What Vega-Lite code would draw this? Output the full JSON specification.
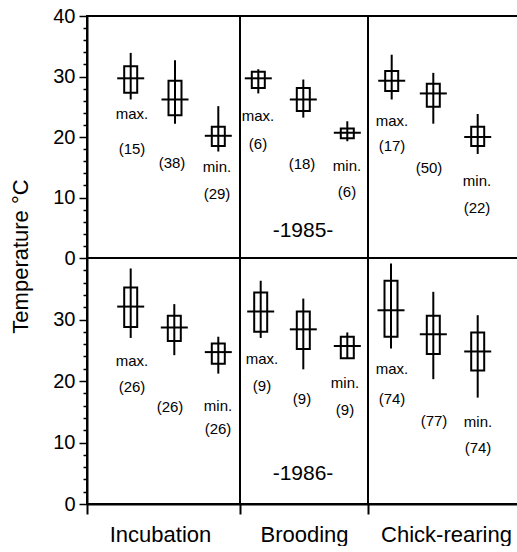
{
  "$schema": "https://vega.github.io/schema/vega-lite/v6.json",
  "padding": {"left": 8, "top": 5, "right": 0, "bottom": 0},
  "spacing": 0,
  "bounds": "flush",
  "config": {
    "font": "Liberation Sans",
    "view": {"stroke": "black", "strokeWidth": 2},
    "concat": {"spacing": 0},
    "axis": {
      "domainColor": "black", "domainWidth": 2,
      "tickColor": "black", "tickWidth": 1.5,
      "labelColor": "black", "labelFont": "Liberation Sans", "labelFontSize": 20,
      "labelOverlap": false,
      "grid": false,
      "titleFont": "Liberation Sans", "titleFontSize": 22, "titleFontWeight": "normal", "titleColor": "black"
    }
  },
  "resolve": {"scale": {"x": "independent", "y": "independent"}},
  "datasets": {
    "dividers": [{"pos": 15.3}, {"pos": 28.1}],
    "boxes": [
      {"year": 1985, "stage": "Incubation", "stat": "max", "pos": 4.37, "wlo": 26.2, "whi": 33.9, "blo": 27.3, "bhi": 31.7, "mean": 29.7},
      {"year": 1985, "stage": "Incubation", "stat": "mean", "pos": 8.8, "wlo": 22.2, "whi": 32.7, "blo": 23.6, "bhi": 29.3, "mean": 26.2},
      {"year": 1985, "stage": "Incubation", "stat": "min", "pos": 13.13, "wlo": 17.6, "whi": 25.1, "blo": 18.5, "bhi": 21.7, "mean": 20.2},
      {"year": 1985, "stage": "Brooding", "stat": "max", "pos": 17.13, "wlo": 27.2, "whi": 31.2, "blo": 28.1, "bhi": 30.8, "mean": 29.7},
      {"year": 1985, "stage": "Brooding", "stat": "mean", "pos": 21.63, "wlo": 23.2, "whi": 29.5, "blo": 24.3, "bhi": 28.1, "mean": 26.2},
      {"year": 1985, "stage": "Brooding", "stat": "min", "pos": 26.03, "wlo": 19.3, "whi": 22.6, "blo": 19.8, "bhi": 21.4, "mean": 20.7},
      {"year": 1985, "stage": "Chick-rearing", "stat": "max", "pos": 30.47, "wlo": 26.2, "whi": 33.6, "blo": 27.6, "bhi": 30.9, "mean": 29.3},
      {"year": 1985, "stage": "Chick-rearing", "stat": "mean", "pos": 34.63, "wlo": 22.2, "whi": 30.6, "blo": 25.0, "bhi": 28.8, "mean": 27.2},
      {"year": 1985, "stage": "Chick-rearing", "stat": "min", "pos": 39.07, "wlo": 17.2, "whi": 23.8, "blo": 18.5, "bhi": 21.7, "mean": 20.0},
      {"year": 1986, "stage": "Incubation", "stat": "max", "pos": 4.37, "wlo": 27.0, "whi": 38.3, "blo": 28.8, "bhi": 35.2, "mean": 32.1},
      {"year": 1986, "stage": "Incubation", "stat": "mean", "pos": 8.73, "wlo": 24.2, "whi": 32.5, "blo": 26.5, "bhi": 30.6, "mean": 28.7},
      {"year": 1986, "stage": "Incubation", "stat": "min", "pos": 13.13, "wlo": 21.2, "whi": 27.2, "blo": 22.8, "bhi": 26.1, "mean": 24.7},
      {"year": 1986, "stage": "Brooding", "stat": "max", "pos": 17.37, "wlo": 27.0, "whi": 36.3, "blo": 28.0, "bhi": 34.4, "mean": 31.3},
      {"year": 1986, "stage": "Brooding", "stat": "mean", "pos": 21.63, "wlo": 21.9, "whi": 33.4, "blo": 25.2, "bhi": 31.3, "mean": 28.4},
      {"year": 1986, "stage": "Brooding", "stat": "min", "pos": 26.03, "wlo": 23.6, "whi": 27.9, "blo": 23.7, "bhi": 27.2, "mean": 25.7},
      {"year": 1986, "stage": "Chick-rearing", "stat": "max", "pos": 30.4, "wlo": 25.3, "whi": 39.1, "blo": 27.2, "bhi": 36.3, "mean": 31.5},
      {"year": 1986, "stage": "Chick-rearing", "stat": "mean", "pos": 34.63, "wlo": 20.3, "whi": 34.5, "blo": 24.4, "bhi": 30.6, "mean": 27.6},
      {"year": 1986, "stage": "Chick-rearing", "stat": "min", "pos": 39.07, "wlo": 17.3, "whi": 30.7, "blo": 21.7, "bhi": 27.9, "mean": 24.8}
    ],
    "labels": [
      {"year": 1985, "kind": "stat", "pos": 4.5, "ly": 23.8, "text": "max."},
      {"year": 1985, "kind": "stat", "pos": 4.5, "ly": 18.0, "text": "(15)"},
      {"year": 1985, "kind": "stat", "pos": 8.5, "ly": 15.7, "text": "(38)"},
      {"year": 1985, "kind": "stat", "pos": 13.0, "ly": 15.0, "text": "min."},
      {"year": 1985, "kind": "stat", "pos": 13.0, "ly": 10.6, "text": "(29)"},
      {"year": 1985, "kind": "stat", "pos": 17.1, "ly": 23.5, "text": "max."},
      {"year": 1985, "kind": "stat", "pos": 17.1, "ly": 18.8, "text": "(6)"},
      {"year": 1985, "kind": "stat", "pos": 21.5, "ly": 15.5, "text": "(18)"},
      {"year": 1985, "kind": "stat", "pos": 26.0, "ly": 15.2, "text": "min."},
      {"year": 1985, "kind": "stat", "pos": 26.0, "ly": 10.9, "text": "(6)"},
      {"year": 1985, "kind": "stat", "pos": 30.5, "ly": 22.6, "text": "max."},
      {"year": 1985, "kind": "stat", "pos": 30.5, "ly": 18.5, "text": "(17)"},
      {"year": 1985, "kind": "stat", "pos": 34.2, "ly": 14.9, "text": "(50)"},
      {"year": 1985, "kind": "stat", "pos": 39.0, "ly": 12.7, "text": "min."},
      {"year": 1985, "kind": "stat", "pos": 39.0, "ly": 8.3, "text": "(22)"},
      {"year": 1985, "kind": "year", "pos": 21.6, "ly": 4.5, "text": "-1985-"},
      {"year": 1986, "kind": "stat", "pos": 4.5, "ly": 23.3, "text": "max."},
      {"year": 1986, "kind": "stat", "pos": 4.5, "ly": 19.0, "text": "(26)"},
      {"year": 1986, "kind": "stat", "pos": 8.3, "ly": 15.8, "text": "(26)"},
      {"year": 1986, "kind": "stat", "pos": 13.1, "ly": 15.9, "text": "min."},
      {"year": 1986, "kind": "stat", "pos": 13.1, "ly": 12.2, "text": "(26)"},
      {"year": 1986, "kind": "stat", "pos": 17.5, "ly": 23.6, "text": "max."},
      {"year": 1986, "kind": "stat", "pos": 17.5, "ly": 19.2, "text": "(9)"},
      {"year": 1986, "kind": "stat", "pos": 21.5, "ly": 17.1, "text": "(9)"},
      {"year": 1986, "kind": "stat", "pos": 25.8, "ly": 19.7, "text": "min."},
      {"year": 1986, "kind": "stat", "pos": 25.8, "ly": 15.3, "text": "(9)"},
      {"year": 1986, "kind": "stat", "pos": 30.5, "ly": 22.0, "text": "max."},
      {"year": 1986, "kind": "stat", "pos": 30.5, "ly": 17.1, "text": "(74)"},
      {"year": 1986, "kind": "stat", "pos": 34.7, "ly": 13.5, "text": "(77)"},
      {"year": 1986, "kind": "stat", "pos": 39.1, "ly": 13.3, "text": "min."},
      {"year": 1986, "kind": "stat", "pos": 39.1, "ly": 9.1, "text": "(74)"},
      {"year": 1986, "kind": "year", "pos": 21.6, "ly": 4.9, "text": "-1986-"}
    ]
  },
  "vconcat": [
    {
      "width": 432,
      "height": 242,
      "layer": [
        {
          "data": {"name": "boxes"},
          "transform": [{"filter": "datum.year == 1985"}],
          "mark": {"type": "rule", "color": "black", "strokeWidth": 2},
          "encoding": {
            "x": {"field": "pos", "type": "quantitative", "scale": {"domain": [0, 43.2], "nice": false, "zero": false, "padding": 0}, "axis": null},
            "y": {
              "field": "wlo", "type": "quantitative",
              "scale": {"domain": [0, 40], "nice": false, "padding": 0},
              "axis": {
                "values": [0, 2, 4, 6, 8, 10, 12, 14, 16, 18, 20, 22, 24, 26, 28, 30, 32, 34, 36, 38, 40],
                "tickCount": 100,
                "format": "d",
                "labelExpr": "datum.value % 10 === 0 ? datum.label : ''",
                "tickSize": {"condition": {"test": "datum.value % 10 === 0", "value": 8}, "value": 4},
                "labelPadding": 4,
                "labelOverlap": false,
                "labelFlush": false,
                "title": "Temperature °C",
                "titleAngle": -90,
                "titleY": 240,
                "titleX": -60,
                "titleAlign": "center",
                "titleBaseline": "alphabetic"
              }
            },
            "y2": {"field": "whi"}
          }
        },
        {
          "data": {"name": "dividers"},
          "mark": {"type": "rule", "color": "black", "strokeWidth": 2},
          "encoding": {"x": {"field": "pos", "type": "quantitative", "axis": null}}
        },
        {
          "data": {"name": "boxes"},
          "transform": [{"filter": "datum.year == 1985"}],
          "mark": {"type": "bar", "size": 13, "fillOpacity": 0, "stroke": "black", "strokeOpacity": 1, "strokeWidth": 2},
          "encoding": {
            "x": {"field": "pos", "type": "quantitative", "axis": null},
            "y": {"field": "blo", "type": "quantitative"},
            "y2": {"field": "bhi"}
          }
        },
        {
          "data": {"name": "boxes"},
          "transform": [{"filter": "datum.year == 1985"}],
          "mark": {"type": "tick", "orient": "horizontal", "size": 27, "thickness": 2, "color": "black", "opacity": 1},
          "encoding": {
            "x": {"field": "pos", "type": "quantitative", "axis": null},
            "y": {"field": "mean", "type": "quantitative"}
          }
        },
        {
          "data": {"name": "labels"},
          "transform": [{"filter": "datum.year == 1985 && datum.kind == 'stat'"}],
          "mark": {"type": "text", "fontSize": 15, "font": "Liberation Sans", "color": "black", "align": "center", "baseline": "middle"},
          "encoding": {
            "x": {"field": "pos", "type": "quantitative", "axis": null},
            "y": {"field": "ly", "type": "quantitative"},
            "text": {"field": "text"}
          }
        },
        {
          "data": {"name": "labels"},
          "transform": [{"filter": "datum.year == 1985 && datum.kind == 'year'"}],
          "mark": {"type": "text", "fontSize": 21, "font": "Liberation Sans", "color": "black", "align": "center", "baseline": "middle"},
          "encoding": {
            "x": {"field": "pos", "type": "quantitative", "axis": null},
            "y": {"field": "ly", "type": "quantitative"},
            "text": {"field": "text"}
          }
        }
      ]
    },
    {
      "width": 432,
      "height": 246,
      "layer": [
        {
          "data": {"name": "boxes"},
          "transform": [{"filter": "datum.year == 1986"}],
          "mark": {"type": "rule", "color": "black", "strokeWidth": 2},
          "encoding": {
            "x": {
              "field": "pos", "type": "quantitative",
              "scale": {"domain": [0, 43.2], "nice": false, "zero": false, "padding": 0},
              "axis": {
                "values": [0, 7.3, 15.3, 21.7, 28.1, 35.9],
                "tickCount": 100,
                "tickSize": 10,
                "tickWidth": 2,
                "tickOpacity": {"condition": {"test": "datum.value === 0 || datum.value === 15.3 || datum.value === 28.1", "value": 1}, "value": 0},
                "labelExpr": "datum.value === 7.3 ? 'Incubation' : datum.value === 21.7 ? 'Brooding' : datum.value === 35.9 ? 'Chick-rearing' : ''",
                "labelFontSize": 22,
                "labelPadding": 10,
                "labelOverlap": false,
                "labelFlush": false,
                "labelBound": false,
                "title": null
              }
            },
            "y": {
              "field": "wlo", "type": "quantitative",
              "scale": {"domain": [0, 40], "nice": false, "padding": 0},
              "axis": {
                "values": [0, 2, 4, 6, 8, 10, 12, 14, 16, 18, 20, 22, 24, 26, 28, 30, 32, 34, 36, 38],
                "tickCount": 100,
                "format": "d",
                "labelExpr": "datum.value % 10 === 0 ? datum.label : ''",
                "tickSize": {"condition": {"test": "datum.value % 10 === 0", "value": 8}, "value": 4},
                "labelPadding": 4,
                "labelOverlap": false,
                "labelFlush": false,
                "title": null
              }
            },
            "y2": {"field": "whi"}
          }
        },
        {
          "data": {"name": "dividers"},
          "mark": {"type": "rule", "color": "black", "strokeWidth": 2},
          "encoding": {"x": {"field": "pos", "type": "quantitative"}}
        },
        {
          "data": {"name": "boxes"},
          "transform": [{"filter": "datum.year == 1986"}],
          "mark": {"type": "bar", "size": 13, "fillOpacity": 0, "stroke": "black", "strokeOpacity": 1, "strokeWidth": 2},
          "encoding": {
            "x": {"field": "pos", "type": "quantitative"},
            "y": {"field": "blo", "type": "quantitative"},
            "y2": {"field": "bhi"}
          }
        },
        {
          "data": {"name": "boxes"},
          "transform": [{"filter": "datum.year == 1986"}],
          "mark": {"type": "tick", "orient": "horizontal", "size": 27, "thickness": 2, "color": "black", "opacity": 1},
          "encoding": {
            "x": {"field": "pos", "type": "quantitative"},
            "y": {"field": "mean", "type": "quantitative"}
          }
        },
        {
          "data": {"name": "labels"},
          "transform": [{"filter": "datum.year == 1986 && datum.kind == 'stat'"}],
          "mark": {"type": "text", "fontSize": 15, "font": "Liberation Sans", "color": "black", "align": "center", "baseline": "middle"},
          "encoding": {
            "x": {"field": "pos", "type": "quantitative"},
            "y": {"field": "ly", "type": "quantitative"},
            "text": {"field": "text"}
          }
        },
        {
          "data": {"name": "labels"},
          "transform": [{"filter": "datum.year == 1986 && datum.kind == 'year'"}],
          "mark": {"type": "text", "fontSize": 21, "font": "Liberation Sans", "color": "black", "align": "center", "baseline": "middle"},
          "encoding": {
            "x": {"field": "pos", "type": "quantitative"},
            "y": {"field": "ly", "type": "quantitative"},
            "text": {"field": "text"}
          }
        }
      ]
    }
  ]
}
